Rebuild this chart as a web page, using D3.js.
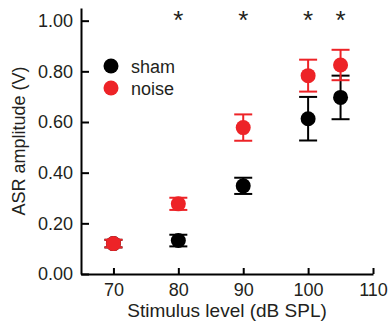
<!DOCTYPE html>
<html>
<head>
<meta charset="utf-8">
<script src="https://cdn.jsdelivr.net/npm/d3@7"></script>
<style>
  body { margin: 0; background: #fff; }
  text { font-family: "Liberation Sans", Arial, sans-serif; fill: #231f20; }
</style>
</head>
<body>
<script>
var w = 391, h = 326;
var margin = {top: 8, right: 18, bottom: 52, left: 81};

// data
var levels = [70, 80, 90, 100, 105];
var shamMean = [0.12, 0.132, 0.348, 0.613, 0.697];
var shamErr  = [0.015, 0.023, 0.032, 0.086, 0.086];
var noiseMean = [0.12, 0.277, 0.578, 0.783, 0.825];
var noiseErr  = [0.015, 0.024, 0.052, 0.063, 0.06];
var sigLevels = [80, 90, 100, 105];
var xTicks = [70, 80, 90, 100, 110];
var yTicks = [0, 0.2, 0.4, 0.6, 0.8, 1.0];
var groups = ["sham", "noise"];
var groupColor = {sham: "#000000", noise: "#ed2327"};

var svg = d3.select("body").append("svg")
    .attr("width", w)
    .attr("height", h)

var x = d3.scaleLinear().domain([65, 110]).range([margin.left, w - margin.right]);
var y = d3.scaleLinear().domain([0, 1.05]).range([h - margin.bottom, margin.top]);

// axes, ticks pointing inwards
var xAxis = svg.append("g")
    .attr("transform", "translate(0," + y(0) + ")")
    .call(d3.axisBottom(x).tickValues(xTicks).tickSize(-6).tickSizeOuter(0).tickPadding(9));
var yAxis = svg.append("g")
    .attr("transform", "translate(" + x(65) + ",0)")
    .call(d3.axisLeft(y).tickValues(yTicks).tickSize(-8).tickSizeOuter(0).tickPadding(8)
        .tickFormat(d3.format(".2f")));

[xAxis, yAxis].forEach(function(a) {
    a.select(".domain").attr("stroke", "#000").attr("stroke-width", 2);
    a.selectAll(".tick line").attr("stroke", "#000").attr("stroke-width", 2);
    a.selectAll(".tick text").style("font-size", "18px").attr("fill", "#231f20");
});
xAxis.selectAll(".tick text").attr("dy", "0.71em");

svg.append("text")
    .attr("x", (x(65) + x(110)) / 2)
    .attr("y", 317)
    .attr("text-anchor", "middle")
    .style("font-size", "19px")
    .text("Stimulus level (dB SPL)");

svg.append("text")
    .attr("transform", "translate(25," + ((y(0) + y(1.05)) / 2) + ") rotate(-90)")
    .attr("text-anchor", "middle")
    .style("font-size", "18px")
    .text("ASR amplitude (V)");

function drawSeries(means, errs, col) {
    var g = svg.append("g");
    var capW = 9;
    levels.forEach(function(l, i) {
        var lo = means[i] - errs[i], hi = means[i] + errs[i];
        g.append("line")
            .attr("x1", x(l)).attr("x2", x(l))
            .attr("y1", y(lo)).attr("y2", y(hi))
            .attr("stroke", col).attr("stroke-width", 2);
        [lo, hi].forEach(function(v) {
            g.append("line")
                .attr("x1", x(l) - capW).attr("x2", x(l) + capW)
                .attr("y1", y(v)).attr("y2", y(v))
                .attr("stroke", col).attr("stroke-width", 2);
        });
    });
    g.selectAll("circle")
        .data(levels)
        .enter()
        .append("circle")
        .attr("cx", function(d) { return x(d); })
        .attr("cy", function(d, i) { return y(means[i]); })
        .attr("r", 7.5)
        .attr("fill", col);
}

drawSeries(shamMean, shamErr, groupColor.sham);
drawSeries(noiseMean, noiseErr, groupColor.noise);

// significance stars
svg.append("g").selectAll("text")
    .data(sigLevels)
    .enter()
    .append("text")
    .attr("x", function(d) { return x(d); })
    .attr("y", 29)
    .attr("text-anchor", "middle")
    .style("font-size", "26px")
    .text("*");

// legend
var legend = svg.append("g")
    .attr("transform", "translate(111,66)")
groups.forEach(function(gname, i) {
    legend.append("circle")
        .attr("cx", 0).attr("cy", i * 22)
        .attr("r", 7.5)
        .attr("fill", groupColor[gname]);
    legend.append("text")
        .attr("x", 20).attr("y", i * 22 + 6.5)
        .style("font-size", "18px")
        .text(gname);
});
</script>
</body>
</html>
